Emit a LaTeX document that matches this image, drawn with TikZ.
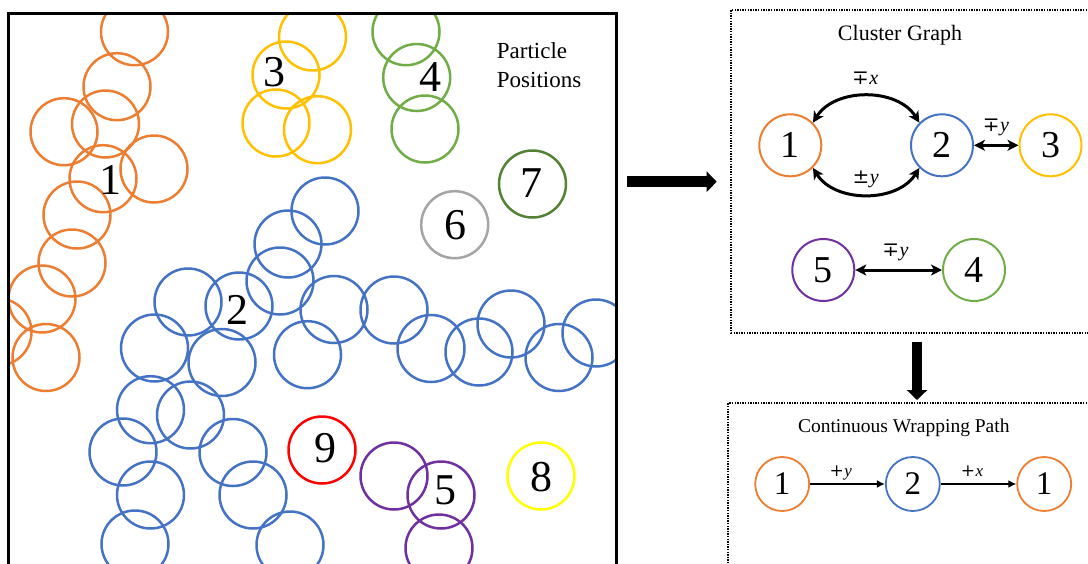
\documentclass[tikz,border=0pt]{standalone}
\usepackage{fontspec}
\setmainfont{Liberation Serif}
\newfontfamily\symf{DejaVu Serif}
\usetikzlibrary{arrows.meta}
\definecolor{cOrange}{HTML}{ED7D31}
\definecolor{cBlue}{HTML}{4472C4}
\definecolor{cGold}{HTML}{FFC000}
\definecolor{cGreen}{HTML}{70AD47}
\definecolor{cDkGreen}{HTML}{548235}
\definecolor{cGray}{HTML}{A5A5A5}
\definecolor{cRed}{HTML}{FF0000}
\definecolor{cYellow}{HTML}{FFFF00}
\definecolor{cPurple}{HTML}{7030A0}
\newcommand{\mylab}[2]{{\symf #1}\kern0.5pt\textit{#2}}
\begin{document}
\begin{tikzpicture}[x=1pt,y=1pt,
  pcirc/.style={draw=#1, line width=2.5pt},
  plabel/.style={font=\fontsize{44}{44}\selectfont, inner sep=0pt},
  gnode/.style={circle, draw=#1, line width=2pt, minimum size=62pt, inner sep=0pt, font=\fontsize{38}{38}\selectfont},
  wnode/.style={circle, draw=#1, line width=1.8pt, minimum size=54pt, inner sep=0pt, font=\fontsize{33}{33}\selectfont},
  biedge/.style={line width=3pt, {Stealth[length=11pt,width=11pt,inset=3pt]}-{Stealth[length=11pt,width=11pt,inset=3pt]}},
  pedge/.style={line width=2pt, -{Latex[length=8pt,width=8pt]}},
  elabel/.style={inner sep=0pt, font=\fontsize{20}{20}\selectfont},
  wlabel/.style={inner sep=0pt, font=\fontsize{17}{17}\selectfont},
  bigarrow/.style={line width=10.5pt, -{Triangle[length=10pt,width=20pt]}},
  dotbox/.style={line width=1.8pt, dash pattern=on 1.4pt off 1.2pt},
  title/.style={inner sep=0pt}
]
\useasboundingbox (0,0) rectangle (1088,-563);

% ---------- left panel: particle positions ----------
\begin{scope}
  \clip (8.7,-13.5) rectangle (616.2,-600);
  \foreach \x/\y in {134.5/31.7, 117/86.7, 105.5/124, 64/131.7, 103/178.7, 154/169,
                     77/215, 72/263, 42/299, -2/332, 46/357.5}
    \draw[pcirc=cOrange] (\x,-\y) circle[radius=33.5];
  \foreach \x/\y in {312.5/37, 286/75, 276/123, 317.5/129.7}
    \draw[pcirc=cGold] (\x,-\y) circle[radius=33.5];
  \foreach \x/\y in {406/31.7, 416.7/77.5, 425/129}
    \draw[pcirc=cGreen] (\x,-\y) circle[radius=33.5];
  \foreach \x/\y in {325/211, 288/244, 188/302, 239/306, 280/281, 334/309.5,
                     154.5/348, 222/362.5, 307.5/354.7, 150.5/409.7, 190.5/415,
                     123/452, 233/452.5, 150.5/495, 253/495, 135/544, 290/545,
                     394/310, 431/348.5, 479/352, 511/324, 559/357.5, 596/333}
    \draw[pcirc=cBlue] (\x,-\y) circle[radius=33.5];
  \foreach \x/\y in {394/476, 441/495, 439/548}
    \draw[pcirc=cPurple] (\x,-\y) circle[radius=33.5];
  \draw[pcirc=cGray] (454.7,-224.7) circle[radius=33.5];
  \draw[pcirc=cDkGreen] (532.5,-184) circle[radius=33.5];
  \draw[pcirc=cRed] (322,-450) circle[radius=33.5];
  \draw[pcirc=cYellow] (541,-476) circle[radius=33.5];
\end{scope}
\draw[line width=2.7pt] (8.7,-600) -- (8.7,-13.5) -- (616.2,-13.5) -- (616.2,-600);

\node[plabel] (l1) at (110,-180) {1};
\node[plabel] (l2) at (237.3,-310) {2};
\node[plabel] (l3) at (274,-72) {3};
\node[plabel] (l4) at (430,-77) {4};
\node[plabel] (l5) at (445,-490) {5};
\node[plabel] (l6) at (455,-225) {6};
\node[plabel] (l7) at (531,-183) {7};
\node[plabel] (l8) at (541.7,-476.7) {8};
\node[plabel] (l9) at (325,-448) {9};
\node[anchor=north west, align=left, inner sep=0pt, font=\fontsize{23}{29}\selectfont] (pp) at (496.7,-42) {Particle\\Positions};

% ---------- arrows between panels ----------
\coordinate (a1s) at (627.3,-181.7);
\coordinate (a1e) at (716.7,-181.7);
\draw[bigarrow] (a1s) -- (a1e);
\coordinate (a2s) at (917,-342.3);
\coordinate (a2e) at (917,-400);
\draw[bigarrow] (a2s) -- (a2e);

% ---------- cluster graph ----------
\draw[dotbox] (1100,-10) -- (731,-10) -- (731,-332.7) -- (1100,-332.7);
\node[title, font=\fontsize{22}{22}\selectfont] (cgt) at (900,-35.5) {Cluster Graph};
\node[gnode=cOrange] (c1) at (790.3,-145.3) {1};
\node[gnode=cBlue] (c2) at (942,-145.3) {2};
\node[gnode=cGold] (c3) at (1050.5,-145.3) {3};
\node[gnode=cPurple] (c5) at (823.3,-270) {5};
\node[gnode=cGreen] (c4) at (974,-270) {4};
\draw[biedge] (c1.45) to[out=58,in=122] (c2.135);
\draw[biedge] (c1.-45) to[out=-58,in=-122] (c2.-135);
\draw[biedge] (c2) -- (c3);
\draw[biedge] (c5) -- (c4);
\node[elabel] (ex) at (865.3,-78.3) {\mylab{∓}{x}};
\node[elabel] (ey1) at (865.8,-179.5) {\mylab{±}{y}};
\node[elabel] (ey2) at (996,-127.5) {\mylab{∓}{y}};
\node[elabel] (ey3) at (895.5,-252) {\mylab{∓}{y}};

% ---------- continuous wrapping path ----------
\draw[dotbox] (1100,-403.3) -- (728.3,-403.3) -- (728.3,-600);
\node[title, font=\fontsize{19.5}{20}\selectfont] (cwt) at (903.8,-428.3) {Continuous Wrapping Path};
\node[wnode=cOrange] (w1) at (782.2,-484) {1};
\node[wnode=cBlue] (w2) at (912.8,-484) {2};
\node[wnode=cOrange] (w3) at (1044.2,-484) {1};
\draw[pedge] (w1) -- (w2);
\draw[pedge] (w2) -- (w3);
\node[wlabel] (py) at (840.7,-472.5) {\mylab{+}{y}};
\node[wlabel] (px) at (972,-470.8) {\mylab{+}{x}};
\end{tikzpicture}
\end{document}
